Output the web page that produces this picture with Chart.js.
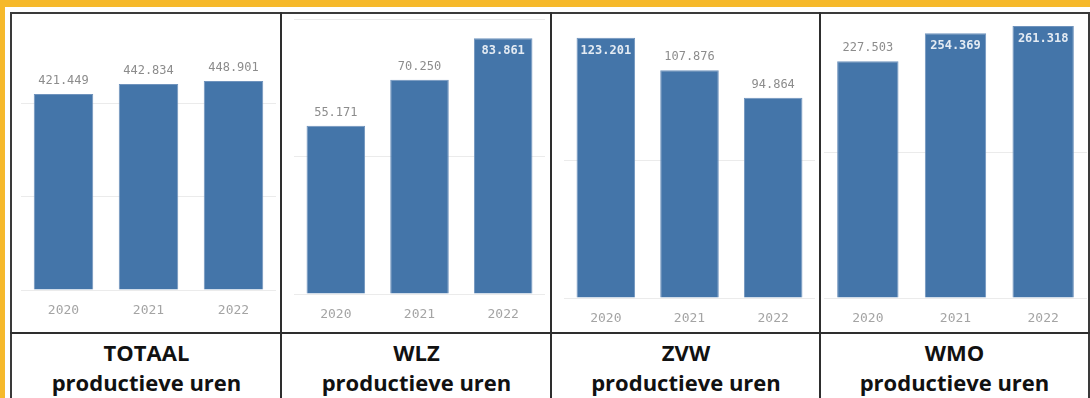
<!DOCTYPE html>
<html lang="nl">
<head>
<meta charset="UTF-8">
<title>Productieve uren</title>
<script src="https://cdn.jsdelivr.net/npm/chart.js"></script>
<style>
  html, body { margin: 0; padding: 0; background: #fff; overflow: hidden; }
  body { width: 1090px; height: 398px; position: relative; font-family: "Open Sans", sans-serif; }
  .band-top { position: absolute; left: 0; top: 0; width: 1090px; height: 7px; background: #f6b92b; }
  .band-left { position: absolute; left: 0; top: 0; width: 5px; height: 398px; background: #f6b92b; }
  .frame { position: absolute; left: 10px; top: 12px; width: 1076px; height: 400px;
           border: 2px solid #3a3a3a; border-bottom: none; }
  .vline { position: absolute; top: 12px; width: 2px; height: 398px; background: #2e2e2e; }
  .hline { position: absolute; left: 10px; top: 332px; width: 1080px; height: 2px; background: #2e2e2e; }
  .title { position: absolute; top: 337px; text-align: center; font-weight: 700;
           font-size: 22px; line-height: 30px; color: #111; }
  canvas { position: absolute; top: 15px; }
</style>
</head>
<body>
  <div class="band-top"></div>
  <div class="band-left"></div>
  <div class="frame"></div>
  <div class="vline" style="left:280px"></div>
  <div class="vline" style="left:550px"></div>
  <div class="vline" style="left:819px"></div>
  <div class="hline"></div>
  <div id="panels"></div>

<script>
  // jaren en uren per financieringsstroom
  const years = ['2020', '2021', '2022'];
  const totaalUren = [421449, 442834, 448901];
  const wlzUren = [55171, 70250, 83861];
  const zvwUren = [123201, 107876, 94864];
  const wmoUren = [227503, 254369, 261318];

  // hulplijnen per grafiek
  const totaalGrid = [0, 200000, 400000];
  const wlzGrid = [0, 45000, 90000];
  const zvwGrid = [0, 65000];
  const wmoGrid = [0, 140000];

  const titles = [
    ['TOTAAL', 'productieve uren'],
    ['WLZ', 'productieve uren'],
    ['ZVW', 'productieve uren'],
    ['WMO', 'productieve uren']
  ];

  const panels = [
    { data: totaalUren, grid: totaalGrid, max: 591000, left: 21, right: 276, base: 290, box: [12, 281] },
    { data: wlzUren, grid: wlzGrid, max: 91500, left: 294, right: 545, base: 294, box: [282, 551] },
    { data: zvwUren, grid: zvwGrid, max: 134000, left: 564, right: 815, base: 298, box: [552, 820] },
    { data: wmoUren, grid: wmoGrid, max: 272000, left: 824, right: 1087, base: 298, box: [821, 1088] }
  ];

  const CANVAS_TOP = 15, CANVAS_BOTTOM = 332;
  const BAR_COLOR = '#4475a9';

  function fmt(v) {
    return String(v).replace(/\B(?=(\d{3})+(?!\d))/g, '.');
  }

  // waardelabels boven de staaf, of erin als er bovenaan geen ruimte is
  const valueLabels = {
    id: 'valueLabels',
    afterDatasetsDraw(chart) {
      const ctx = chart.ctx;
      const area = chart.chartArea;
      const meta = chart.getDatasetMeta(0);
      const values = chart.data.datasets[0].data;
      ctx.save();
      ctx.textAlign = 'center';
      ctx.textBaseline = 'middle';
      meta.data.forEach((bar, i) => {
        const text = fmt(values[i]);
        if (bar.y - 24 < area.top) {
          ctx.font = 'bold 12px "DejaVu Sans Mono", monospace';
          ctx.fillStyle = '#e4ebf3';
          ctx.fillText(text, bar.x, bar.y + 13);
        } else {
          ctx.font = '12px "DejaVu Sans Mono", monospace';
          ctx.fillStyle = '#8c8c8c';
          ctx.fillText(text, bar.x, bar.y - 13);
        }
      });
      ctx.restore();
    }
  };

  const holder = document.getElementById('panels');

  panels.forEach((p, idx) => {
    const canvas = document.createElement('canvas');
    const w = p.right - p.left;
    const h = CANVAS_BOTTOM - CANVAS_TOP;
    canvas.width = w;
    canvas.height = h;
    canvas.style.left = p.left + 'px';
    canvas.style.width = w + 'px';
    canvas.style.height = h + 'px';
    holder.appendChild(canvas);

    const t = document.createElement('div');
    t.className = 'title';
    t.style.left = p.box[0] + 'px';
    t.style.width = (p.box[1] - p.box[0]) + 'px';
    t.innerHTML = titles[idx][0] + '<br>' + titles[idx][1];
    holder.appendChild(t);

    const axisHeight = CANVAS_BOTTOM - p.base;

    new Chart(canvas, {
      type: 'bar',
      data: {
        labels: years,
        datasets: [{
          data: p.data,
          backgroundColor: BAR_COLOR,
          borderColor: '#6f93bd',
          borderWidth: 1,
          barPercentage: 0.7,
          categoryPercentage: 1
        }]
      },
      options: {
        responsive: false,
        animation: false,
        devicePixelRatio: 1,
        layout: { padding: 0 },
        plugins: { legend: { display: false }, tooltip: { enabled: false } },
        scales: {
          x: {
            grid: { display: false, drawTicks: false },
            border: { display: false },
            ticks: {
              color: '#a4a4a4',
              font: { family: '"DejaVu Sans Mono", monospace', size: 13 },
              padding: 13
            },
            afterFit(scale) { scale.height = axisHeight; }
          },
          y: {
            min: 0,
            max: p.max,
            grid: { color: '#ebebeb', drawTicks: false, lineWidth: 1 },
            border: { display: false },
            ticks: { display: false },
            afterFit(scale) { scale.width = 0; },
            afterBuildTicks(scale) { scale.ticks = p.grid.map(v => ({ value: v })); }
          }
        }
      },
      plugins: [valueLabels]
    });
  });
</script>
</body>
</html>
